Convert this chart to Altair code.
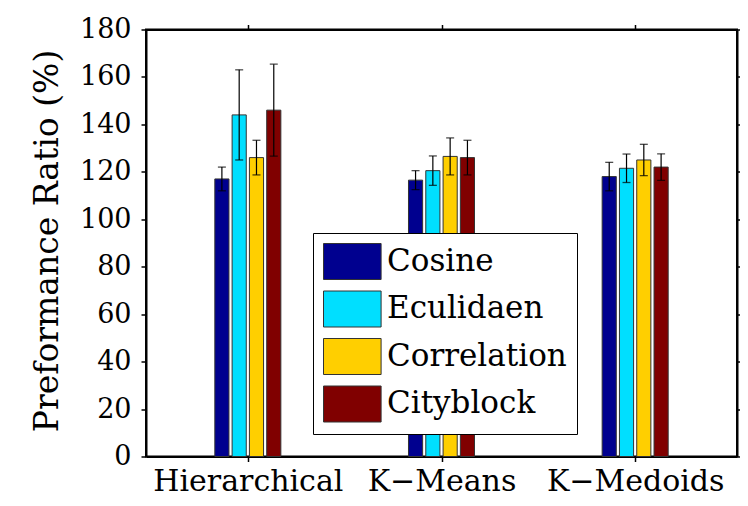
import json
import altair as alt
import pandas as pd

methods = ["Hierarchical", "K\u2212Means", "K\u2212Medoids"]
series = ["Cosine", "Eculidaen", "Correlation", "Cityblock"]
colors = ["#00008F", "#00DFFF", "#FFCF00", "#800000"]

cosine = [117.0, 116.5, 118.0]
eculidaen = [144.0, 120.5, 121.5]
correlation = [126.0, 126.5, 125.0]
cityblock = [146.0, 126.0, 122.0]

cosine_err = [5.0, 4.0, 6.0]
eculidaen_err = [19.0, 6.2, 6.0]
correlation_err = [7.3, 7.8, 6.6]
cityblock_err = [19.4, 7.3, 5.6]

y_ticks = [0, 20, 40, 60, 80, 100, 120, 140, 160, 180]

vals = [cosine, eculidaen, correlation, cityblock]
errs = [cosine_err, eculidaen_err, correlation_err, cityblock_err]
rows = []
for s, name in enumerate(series):
    for g in range(len(methods)):
        rows.append({"g": g + 1, "s": s, "series": name,
                     "value": vals[s][g], "err": errs[s][g]})
df = pd.DataFrame(rows)

FONT = "DejaVu Serif"
xscale = alt.Scale(domain=[0.5, 3.5], nice=False, zero=False)
yscale = alt.Scale(domain=[0, 180], nice=False)
label_expr = json.dumps(methods) + "[datum.value - 1]"

base = alt.Chart(df).transform_calculate(
    xc="datum.g + (datum.s - 1.5) * 0.0893",
    xl="datum.g + (datum.s - 1.5) * 0.0893 - 0.0365",
    xr="datum.g + (datum.s - 1.5) * 0.0893 + 0.0365",
    lo="datum.value - datum.err",
    hi="datum.value + datum.err",
    zero="0",
)

bars = base.mark_bar(stroke="#333333", strokeWidth=1, orient="vertical").encode(
    x=alt.X("xl:Q", scale=xscale,
            axis=alt.Axis(values=[1, 2, 3], labelExpr=label_expr, title=None,
                          orient="bottom", labelFontSize=30, labelPadding=29,
                          labelBaseline="alphabetic", labelLimit=400,
                          tickSize=5)),
    x2="xr:Q",
    y=alt.Y("value:Q", scale=yscale,
            axis=alt.Axis(values=y_ticks, title="Preformance Ratio (%)",
                          orient="left", labelFontSize=27, labelPadding=10,
                          tickSize=5, titleFontSize=33, titleFontWeight="normal",
                          titleColor="black",
                          titleAngle=-90, titleX=-99, titleY=211,
                          titleAlign="center", titleBaseline="middle")),
    y2="zero:Q",
    color=alt.Color("series:N", scale=alt.Scale(domain=series, range=colors),
                    sort=series,
                    legend=alt.Legend(
                        title=None, orient="none", legendX=167, legendY=203.5,
                        symbolType="M -1 -1 L 2.2 -1 L 2.2 1 L -1 1 Z",
                        symbolSize=1296, symbolStrokeColor="#333333",
                        symbolStrokeWidth=1, labelFont=FONT, labelFontSize=31,
                        labelColor="black", labelOffset=27,
                        labelExpr="datum.label + '\u00a0\u00a0'",
                        rowPadding=6.5, padding=10,
                        strokeColor="black", fillColor="white",
                        labelLimit=400)),
)

err_rule = base.mark_rule(color="black", strokeWidth=1.2).encode(
    x=alt.X("xc:Q", scale=xscale,
            axis=alt.Axis(values=[1, 2, 3], labels=False, title=None,
                          orient="top", tickSize=5)),
    y=alt.Y("lo:Q", scale=yscale,
            axis=alt.Axis(values=y_ticks, labels=False, title=None,
                          orient="right", tickSize=5)),
    y2="hi:Q",
)

cap_lo = base.mark_tick(color="black", orient="horizontal", size=8,
                        thickness=1.3).encode(
    x=alt.X("xc:Q", scale=xscale, axis=None),
    y=alt.Y("lo:Q", scale=yscale, axis=None),
)
cap_hi = base.mark_tick(color="black", orient="horizontal", size=8,
                        thickness=1.3).encode(
    x=alt.X("xc:Q", scale=xscale, axis=None),
    y=alt.Y("hi:Q", scale=yscale, axis=None),
)

chart = alt.layer(bars, err_rule, cap_lo, cap_hi).resolve_axis(
    x="independent", y="independent"
).properties(
    width=591, height=427,
    autosize=alt.AutoSizeParams(type="none"),
    padding={"left": 138, "top": 21.5, "right": 3, "bottom": 41},
    background="white",
).configure_view(
    stroke="black", strokeWidth=2
).configure_axis(
    grid=False, domainColor="black", domainWidth=2, tickColor="black",
    tickWidth=1.5, labelColor="black", labelFont=FONT, titleFont=FONT,
)

chart.save("out.html", embed_options={"renderer": "svg", "actions": False})
